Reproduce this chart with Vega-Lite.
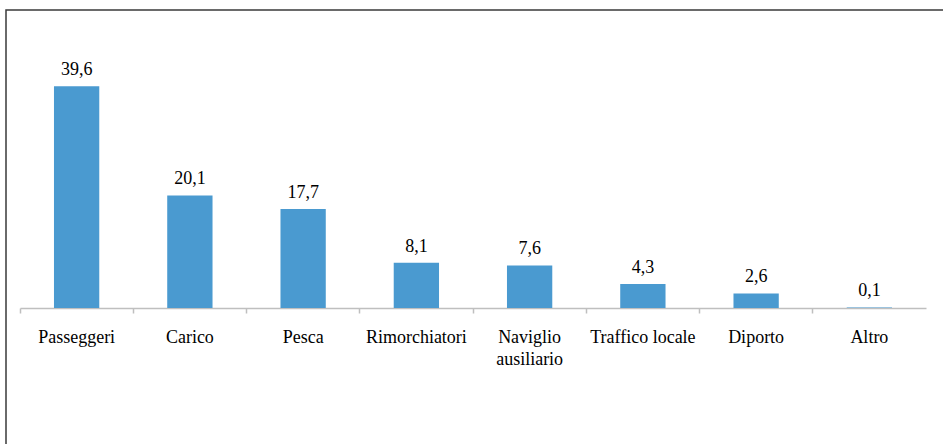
{
  "$schema": "https://vega.github.io/schema/vega-lite/v6.json",
  "autosize": {"type": "none"},
  "padding": {"left": 6, "top": 10, "right": 0, "bottom": 0},
  "width": 945,
  "height": 445,
  "background": "white",
  "config": {
    "view": {"stroke": "#3a3a3a", "strokeWidth": 1.5},
    "locale": {"number": {"decimal": ",", "thousands": ".", "grouping": [3], "currency": ["", " €"]}},
    "font": "Liberation Serif"
  },
  "data": {
    "values": [
      {"categoria": "Passeggeri", "valore": 39.6},
      {"categoria": "Carico", "valore": 20.1},
      {"categoria": "Pesca", "valore": 17.7},
      {"categoria": "Rimorchiatori", "valore": 8.1},
      {"categoria": "Naviglio ausiliario", "valore": 7.6},
      {"categoria": "Traffico locale", "valore": 4.3},
      {"categoria": "Diporto", "valore": 2.6},
      {"categoria": "Altro", "valore": 0.1}
    ]
  },
  "encoding": {
    "x": {
      "field": "categoria",
      "type": "nominal",
      "sort": null,
      "scale": {"range": [14, 920], "paddingInner": 0, "paddingOuter": 0},
      "axis": {
        "title": null,
        "offset": -147,
        "bandPosition": 0,
        "domainColor": "#bfbfbf",
        "domainWidth": 1.5,
        "tickColor": "#bfbfbf",
        "tickWidth": 1.5,
        "tickSize": 5,
        "labelAngle": 0,
        "labelFont": "Liberation Serif",
        "labelFontSize": 18,
        "labelColor": "#000000",
        "labelPadding": 15,
        "labelLineHeight": 22,
        "labelExpr": "datum.label == 'Naviglio ausiliario' ? ['Naviglio', 'ausiliario'] : datum.label",
        "labelAlign": "center",
        "grid": false
      }
    },
    "y": {
      "field": "valore",
      "type": "quantitative",
      "scale": {"domain": [0, 40], "range": [298, 74]},
      "axis": null
    }
  },
  "layer": [
    {
      "mark": {"type": "bar", "color": "#4a9ad0", "width": {"band": 0.4}}
    },
    {
      "mark": {"type": "text", "font": "Liberation Serif", "fontSize": 18, "color": "#000000", "baseline": "alphabetic", "dy": -11},
      "encoding": {"text": {"field": "valore", "type": "quantitative", "format": ".1f"}}
    }
  ]
}
